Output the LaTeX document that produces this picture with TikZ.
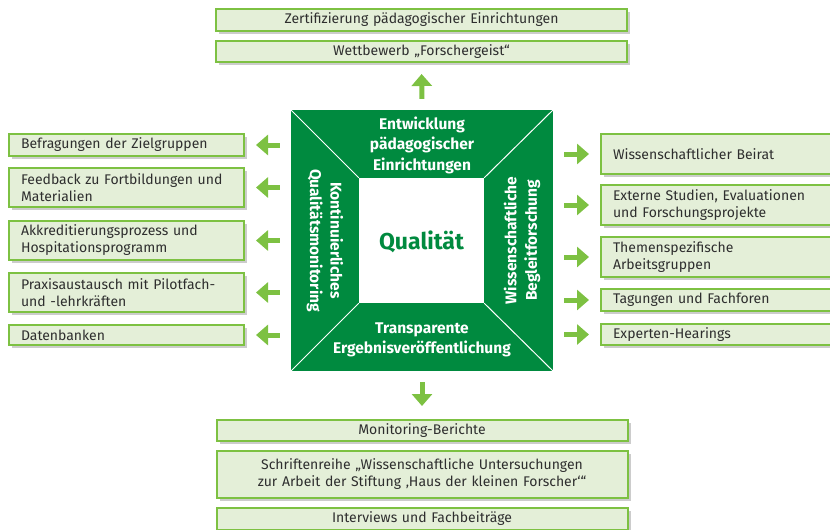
\documentclass[tikz,border=0pt]{standalone}
\usepackage{fontspec}
\setmainfont{Fira Sans}
\usetikzlibrary{arrows.meta,shadows}
\definecolor{darkgreen}{HTML}{008A3F}
\definecolor{lightgreen}{HTML}{7DC142}
\definecolor{boxfill}{HTML}{E4EFD8}
\definecolor{textgray}{HTML}{2E2E2E}

\begin{document}
\begin{tikzpicture}[x=1pt, y=-1pt,
  box/.style={draw=lightgreen, line width=2pt, fill=boxfill, text=textgray, inner sep=0pt,
    font=\fontsize{14}{17}\selectfont,
    drop shadow={shadow xshift=3pt, shadow yshift=-3pt, opacity=0.4}},
  wide/.style={box, minimum width=411pt, text width=400pt, align=center},
  side/.style={box, minimum width=235pt, text width=211pt, align=left},
  field/.style={text=white, align=center, font=\fontsize{15.5}{20.5}\selectfont\bfseries},
  arr/.style={line width=5pt, lightgreen, -{Triangle[length=12pt,width=20pt]},
    shorten <=11pt, shorten >=11pt}]
  \clip (0,0) rectangle (830,530);

  % centre square
  \node[fill=darkgreen, minimum width=262pt, minimum height=261pt, inner sep=0pt] (qual) at (422,240.5) {};
  \node[fill=white, minimum size=125pt, inner sep=0pt] (inner) at (421.5,240.5) {};
  \draw[white, line width=1pt] (qual.north west) -- (inner.north west);
  \draw[white, line width=1pt] (qual.north east) -- (inner.north east);
  \draw[white, line width=1pt] (qual.south west) -- (inner.south west);
  \draw[white, line width=1pt] (qual.south east) -- (inner.south east);
  \node[text=darkgreen, font=\fontsize{23}{26}\selectfont\bfseries] (core) at (421.5,242) {Qualität};
  \node[field] (entw) at (422,145) {Entwicklung\\pädagogischer\\Einrichtungen};
  \node[field] (transp) at (422,340) {Transparente\\Ergebnisveröffentlichung};
  \node[field, rotate=-90] (konti) at (325,240.5) {Kontinuierliches\\Qualitätsmonitoring};
  \node[field, rotate=90] (wiss) at (522,240.5) {Wissenschaftliche\\Begleitforschung};

  % top
  \node[wide, minimum height=22pt] (zert) at (421.5,20) {Zertifizierung pädagogischer Einrichtungen};
  \node[wide, minimum height=21pt] (wett) at (421.5,51.5) {Wettbewerb „Forschergeist“};

  % left
  \node[side, minimum height=22pt] (befr) at (126.5,145) {Befragungen der Zielgruppen};
  \node[side, minimum height=39pt] (feedb) at (126.5,187.5) {Feedback zu Fortbildungen und\\Materialien};
  \node[side, minimum height=39pt] (akkr) at (126.5,240.5) {Akkreditierungsprozess und\\Hospitationsprogramm};
  \node[side, minimum height=39pt] (praxis) at (126.5,292.5) {Praxisaustausch mit Pilotfach-\\und -lehrkräften};
  \node[side, minimum height=20pt] (daten) at (126.5,335) {Datenbanken};

  % right
  \node[side, minimum height=40pt] (beirat) at (718.5,154) {Wissenschaftlicher Beirat};
  \node[side, minimum height=40pt] (extern) at (718.5,205) {Externe Studien, Evaluationen\\und Forschungsprojekte};
  \node[side, minimum height=40pt] (themen) at (718.5,257) {Themenspezifische\\Arbeitsgruppen};
  \node[side, minimum height=22pt] (tagung) at (718.5,300) {Tagungen und Fachforen};
  \node[side, minimum height=21pt] (hear) at (718.5,334.5) {Experten-Hearings};

  % bottom
  \node[wide, minimum height=21pt] (monit) at (422,430.5) {Monitoring-Berichte};
  \node[wide, minimum height=47pt] (schrift) at (422,474.5) {Schriftenreihe „Wissenschaftliche Untersuchungen\\zur Arbeit der Stiftung ‚Haus der kleinen Forscher‘“};
  \node[wide, minimum height=22pt] (interv) at (422,519) {Interviews und Fachbeiträge};

  % arrows
  \draw[arr] (qual.north) -- (wett.south);
  \draw[arr, shorten >=13pt] (qual.south) -- (monit.north);
  \foreach \n in {befr, feedb, akkr, praxis, daten}
    \draw[arr] (qual.west |- \n.east) -- (\n.east);
  \foreach \n in {beirat, extern, themen, tagung, hear}
    \draw[arr] (qual.east |- \n.west) -- (\n.west);
\end{tikzpicture}
\end{document}
